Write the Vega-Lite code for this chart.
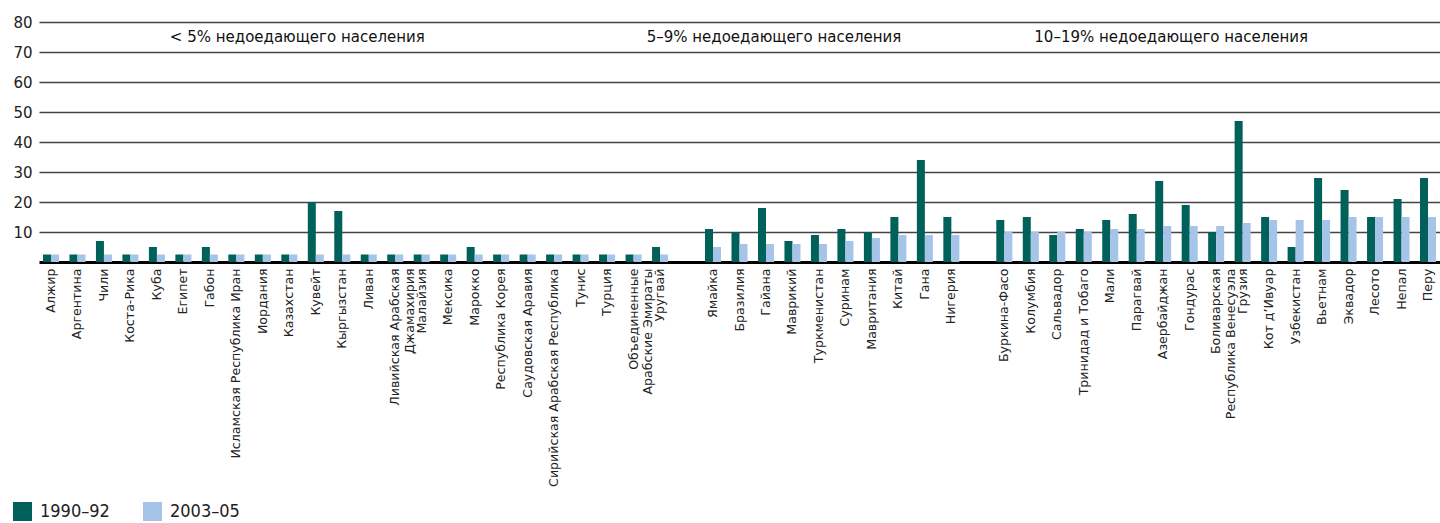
{
  "$schema": "https://vega.github.io/schema/vega-lite/v6.json",
  "width": 1401,
  "height": 240,
  "autosize": {"type": "none"},
  "padding": {"left": 39, "top": 22, "right": 0, "bottom": 261},
  "background": "white",
  "config": {"view": {"stroke": null}, "font": "DejaVu Sans"},
  "datasets": {
    "bars": [
      {"country": "Алжир", "period": "1990–92", "value": 2.5}, {"country": "Алжир", "period": "2003–05", "value": 2.5},
      {"country": "Аргентина", "period": "1990–92", "value": 2.5}, {"country": "Аргентина", "period": "2003–05", "value": 2.5},
      {"country": "Чили", "period": "1990–92", "value": 7}, {"country": "Чили", "period": "2003–05", "value": 2.5},
      {"country": "Коста-Рика", "period": "1990–92", "value": 2.5}, {"country": "Коста-Рика", "period": "2003–05", "value": 2.5},
      {"country": "Куба", "period": "1990–92", "value": 5}, {"country": "Куба", "period": "2003–05", "value": 2.5},
      {"country": "Египет", "period": "1990–92", "value": 2.5}, {"country": "Египет", "period": "2003–05", "value": 2.5},
      {"country": "Габон", "period": "1990–92", "value": 5}, {"country": "Габон", "period": "2003–05", "value": 2.5},
      {"country": "Исламская Республика Иран", "period": "1990–92", "value": 2.5}, {"country": "Исламская Республика Иран", "period": "2003–05", "value": 2.5},
      {"country": "Иордания", "period": "1990–92", "value": 2.5}, {"country": "Иордания", "period": "2003–05", "value": 2.5},
      {"country": "Казахстан", "period": "1990–92", "value": 2.5}, {"country": "Казахстан", "period": "2003–05", "value": 2.5},
      {"country": "Кувейт", "period": "1990–92", "value": 20}, {"country": "Кувейт", "period": "2003–05", "value": 2.5},
      {"country": "Кыргызстан", "period": "1990–92", "value": 17}, {"country": "Кыргызстан", "period": "2003–05", "value": 2.5},
      {"country": "Ливан", "period": "1990–92", "value": 2.5}, {"country": "Ливан", "period": "2003–05", "value": 2.5},
      {"country": "Ливийская Арабская|Джамахирия", "period": "1990–92", "value": 2.5}, {"country": "Ливийская Арабская|Джамахирия", "period": "2003–05", "value": 2.5},
      {"country": "Малайзия", "period": "1990–92", "value": 2.5}, {"country": "Малайзия", "period": "2003–05", "value": 2.5},
      {"country": "Мексика", "period": "1990–92", "value": 2.5}, {"country": "Мексика", "period": "2003–05", "value": 2.5},
      {"country": "Марокко", "period": "1990–92", "value": 5}, {"country": "Марокко", "period": "2003–05", "value": 2.5},
      {"country": "Республика Корея", "period": "1990–92", "value": 2.5}, {"country": "Республика Корея", "period": "2003–05", "value": 2.5},
      {"country": "Саудовская Аравия", "period": "1990–92", "value": 2.5}, {"country": "Саудовская Аравия", "period": "2003–05", "value": 2.5},
      {"country": "Сирийская Арабская Республика", "period": "1990–92", "value": 2.5}, {"country": "Сирийская Арабская Республика", "period": "2003–05", "value": 2.5},
      {"country": "Тунис", "period": "1990–92", "value": 2.5}, {"country": "Тунис", "period": "2003–05", "value": 2.5},
      {"country": "Турция", "period": "1990–92", "value": 2.5}, {"country": "Турция", "period": "2003–05", "value": 2.5},
      {"country": "Объединенные|Арабские Эмираты", "period": "1990–92", "value": 2.5}, {"country": "Объединенные|Арабские Эмираты", "period": "2003–05", "value": 2.5},
      {"country": "Уругвай", "period": "1990–92", "value": 5}, {"country": "Уругвай", "period": "2003–05", "value": 2.5},
      {"country": "Ямайка", "period": "1990–92", "value": 11}, {"country": "Ямайка", "period": "2003–05", "value": 5},
      {"country": "Бразилия", "period": "1990–92", "value": 10}, {"country": "Бразилия", "period": "2003–05", "value": 6},
      {"country": "Гайана", "period": "1990–92", "value": 18}, {"country": "Гайана", "period": "2003–05", "value": 6},
      {"country": "Маврикий", "period": "1990–92", "value": 7}, {"country": "Маврикий", "period": "2003–05", "value": 6},
      {"country": "Туркменистан", "period": "1990–92", "value": 9}, {"country": "Туркменистан", "period": "2003–05", "value": 6},
      {"country": "Суринам", "period": "1990–92", "value": 11}, {"country": "Суринам", "period": "2003–05", "value": 7},
      {"country": "Мавритания", "period": "1990–92", "value": 10}, {"country": "Мавритания", "period": "2003–05", "value": 8},
      {"country": "Китай", "period": "1990–92", "value": 15}, {"country": "Китай", "period": "2003–05", "value": 9},
      {"country": "Гана", "period": "1990–92", "value": 34}, {"country": "Гана", "period": "2003–05", "value": 9},
      {"country": "Нигерия", "period": "1990–92", "value": 15}, {"country": "Нигерия", "period": "2003–05", "value": 9},
      {"country": "Буркина-Фасо", "period": "1990–92", "value": 14}, {"country": "Буркина-Фасо", "period": "2003–05", "value": 10},
      {"country": "Колумбия", "period": "1990–92", "value": 15}, {"country": "Колумбия", "period": "2003–05", "value": 10},
      {"country": "Сальвадор", "period": "1990–92", "value": 9}, {"country": "Сальвадор", "period": "2003–05", "value": 10},
      {"country": "Тринидад и Тобаго", "period": "1990–92", "value": 11}, {"country": "Тринидад и Тобаго", "period": "2003–05", "value": 10},
      {"country": "Мали", "period": "1990–92", "value": 14}, {"country": "Мали", "period": "2003–05", "value": 11},
      {"country": "Парагвай", "period": "1990–92", "value": 16}, {"country": "Парагвай", "period": "2003–05", "value": 11},
      {"country": "Азербайджан", "period": "1990–92", "value": 27}, {"country": "Азербайджан", "period": "2003–05", "value": 12},
      {"country": "Гондурас", "period": "1990–92", "value": 19}, {"country": "Гондурас", "period": "2003–05", "value": 12},
      {"country": "Боливарская|Республика Венесуэла", "period": "1990–92", "value": 10}, {"country": "Боливарская|Республика Венесуэла", "period": "2003–05", "value": 12},
      {"country": "Грузия", "period": "1990–92", "value": 47}, {"country": "Грузия", "period": "2003–05", "value": 13},
      {"country": "Кот д’Ивуар", "period": "1990–92", "value": 15}, {"country": "Кот д’Ивуар", "period": "2003–05", "value": 14},
      {"country": "Узбекистан", "period": "1990–92", "value": 5}, {"country": "Узбекистан", "period": "2003–05", "value": 14},
      {"country": "Вьетнам", "period": "1990–92", "value": 28}, {"country": "Вьетнам", "period": "2003–05", "value": 14},
      {"country": "Эквадор", "period": "1990–92", "value": 24}, {"country": "Эквадор", "period": "2003–05", "value": 15},
      {"country": "Лесото", "period": "1990–92", "value": 15}, {"country": "Лесото", "period": "2003–05", "value": 15},
      {"country": "Непал", "period": "1990–92", "value": 21}, {"country": "Непал", "period": "2003–05", "value": 15},
      {"country": "Перу", "period": "1990–92", "value": 28}, {"country": "Перу", "period": "2003–05", "value": 15}
    ],
    "groups": [
      {"country": "Казахстан", "value": 75, "label": "< 5% недоедающего населения"},
      {"country": "Гайана", "value": 75, "label": "5–9% недоедающего населения"},
      {"country": "Азербайджан", "value": 75, "label": "10–19% недоедающего населения"}
    ]
  },
  "encoding": {
    "x": {
      "field": "country",
      "type": "nominal",
      "sort": null,
      "scale": {
        "domain": ["Алжир", "Аргентина", "Чили", "Коста-Рика", "Куба", "Египет", "Габон", "Исламская Республика Иран", "Иордания", "Казахстан", "Кувейт", "Кыргызстан", "Ливан", "Ливийская Арабская|Джамахирия", "Малайзия", "Мексика", "Марокко", "Республика Корея", "Саудовская Аравия", "Сирийская Арабская Республика", "Тунис", "Турция", "Объединенные|Арабские Эмираты", "Уругвай", " ", "Ямайка", "Бразилия", "Гайана", "Маврикий", "Туркменистан", "Суринам", "Мавритания", "Китай", "Гана", "Нигерия", "  ", "Буркина-Фасо", "Колумбия", "Сальвадор", "Тринидад и Тобаго", "Мали", "Парагвай", "Азербайджан", "Гондурас", "Боливарская|Республика Венесуэла", "Грузия", "Кот д’Ивуар", "Узбекистан", "Вьетнам", "Эквадор", "Лесото", "Непал", "Перу"],
        "paddingInner": 0.395,
        "paddingOuter": 0.15
      },
      "axis": {
        "title": null,
        "labelAngle": -90,
        "labelFont": "DejaVu Sans",
        "labelFontSize": 12.6,
        "labelColor": "#222222",
        "labelPadding": 6,
        "labelLimit": 400,
        "labelOverlap": false,
        "ticks": false,
        "domainColor": "#000000",
        "domainWidth": 3,
        "grid": false,
        "labelExpr": "split(datum.value, '|')"
      }
    },
    "y": {
      "field": "value",
      "type": "quantitative",
      "scale": {"domain": [0, 80], "nice": false},
      "axis": {
        "title": null,
        "values": [10, 20, 30, 40, 50, 60, 70, 80],
        "grid": true,
        "gridColor": "#444444",
        "gridWidth": 1.5,
        "domain": false,
        "ticks": false,
        "labelPadding": 7,
        "labelFont": "DejaVu Sans",
        "labelFontSize": 15,
        "labelColor": "#222222"
      }
    }
  },
  "layer": [
    {
      "data": {"name": "bars"},
      "mark": {"type": "bar"},
      "encoding": {
        "xOffset": {"field": "period", "type": "nominal", "sort": ["1990–92", "2003–05"]},
        "color": {
          "field": "period",
          "type": "nominal",
          "scale": {"domain": ["1990–92", "2003–05"], "range": ["#00615A", "#A5C4E8"]},
          "legend": {
            "title": null,
            "orient": "none",
            "legendX": -26,
            "legendY": 480,
            "direction": "horizontal",
            "symbolType": "square",
            "symbolSize": 361,
            "symbolStrokeWidth": 0,
            "labelFont": "DejaVu Sans Condensed",
            "labelFontSize": 18,
            "labelColor": "#222222",
            "labelOffset": 8,
            "columnPadding": 33
          }
        }
      }
    },
    {
      "data": {"name": "groups"},
      "mark": {"type": "text", "font": "DejaVu Sans", "fontSize": 15, "color": "#111111", "baseline": "middle", "align": "center", "dx": 8},
      "encoding": {
        "text": {"field": "label"}
      }
    }
  ]
}
